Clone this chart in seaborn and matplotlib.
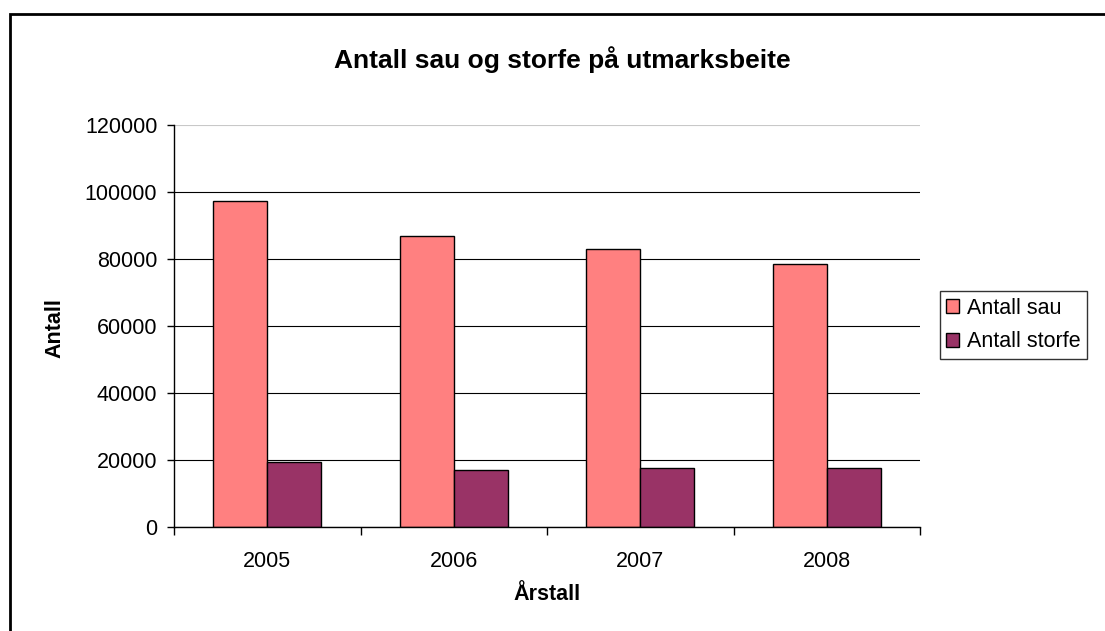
# Antall sau og storfe på utmarksbeite
import numpy as np
import pandas as pd
import matplotlib
matplotlib.use("Agg")
import matplotlib.pyplot as plt
import matplotlib.patches as mpatches
import seaborn as sns

# Data
years = ["2005", "2006", "2007", "2008"]
sau = [97300, 87000, 83100, 78400]
storfe = [19400, 17100, 17500, 17500]
series_names = ["Antall sau", "Antall storfe"]
colors = ["#FF8080", "#993366"]

df = pd.DataFrame({
    "Årstall": years * 2,
    "Antall": sau + storfe,
    "Serie": [series_names[0]] * len(years) + [series_names[1]] * len(years),
})

sns.set_style("white")
plt.rcParams["font.family"] = ["Liberation Sans", "DejaVu Sans"]
plt.rcParams["text.color"] = "black"
plt.rcParams["xtick.color"] = "black"
plt.rcParams["ytick.color"] = "black"

fig = plt.figure(figsize=(11.05, 6.31), dpi=100)
ax = fig.add_axes([174 / 1105, 1 - 527 / 631, (920 - 174) / 1105, (527 - 125) / 631])

sns.barplot(data=df, x="Årstall", y="Antall", hue="Serie", palette=colors,
            width=0.58, edgecolor="black", linewidth=1.0, saturation=1,
            ax=ax, legend=True)

# Akser
ax.set_ylim(0, 120000)
ax.set_xlim(-0.5, len(years) - 0.5)
ax.set_yticks(np.arange(0, 120001, 20000))
ax.yaxis.grid(True, color="black", linewidth=0.8)
ax.set_axisbelow(True)
gl = ax.get_ygridlines()
gl[-1].set_color("#c8c8c8")
ax.tick_params(axis="y", labelsize=15.5, length=5, width=1, direction="out",
               left=True, pad=7, labelcolor="black")
ax.tick_params(axis="x", labelsize=15.5, length=0, pad=17, labelcolor="black")
ax.set_xticks(np.arange(-0.5, len(years)), minor=True)
ax.tick_params(axis="x", which="minor", length=6, width=1, direction="out",
               bottom=True)
ax.set_xlabel("")
ax.set_ylabel("")

for side in ["top", "right"]:
    ax.spines[side].set_visible(False)
for side in ["left", "bottom"]:
    ax.spines[side].set_color("black")
    ax.spines[side].set_linewidth(1.0)

# Titler
fig.text(562 / 1105, 1 - 60 / 631, "Antall sau og storfe på utmarksbeite",
         ha="center", va="center", fontsize=19, fontweight="bold")
fig.text(547 / 1105, 1 - 595 / 631, "Årstall", ha="center", va="center",
         fontsize=15.5, fontweight="bold")
fig.text(55 / 1105, 1 - 328 / 631, "Antall", ha="center", va="center",
         fontsize=15.5, fontweight="bold", rotation=90)

# Legende
handles, labels = ax.get_legend_handles_labels()
ax.legend_.remove()
leg = fig.legend(handles, labels, loc="center left",
                 bbox_to_anchor=(940 / 1105, 1 - 325 / 631),
                 fontsize=15.5, frameon=True, fancybox=False, edgecolor="black",
                 handlelength=0.6, handleheight=0.6, handletextpad=0.35,
                 borderpad=0.3, labelspacing=0.6, borderaxespad=0)
leg.get_frame().set_linewidth(1.0)

# Ramme rundt diagrammet
fig.add_artist(mpatches.Rectangle((10 / 1105, -0.1), 1.2, 1 - 14 / 631 + 0.1,
                                  transform=fig.transFigure, fill=False,
                                  edgecolor="black", linewidth=2, clip_on=False))

fig.savefig("out.png", dpi=100)
